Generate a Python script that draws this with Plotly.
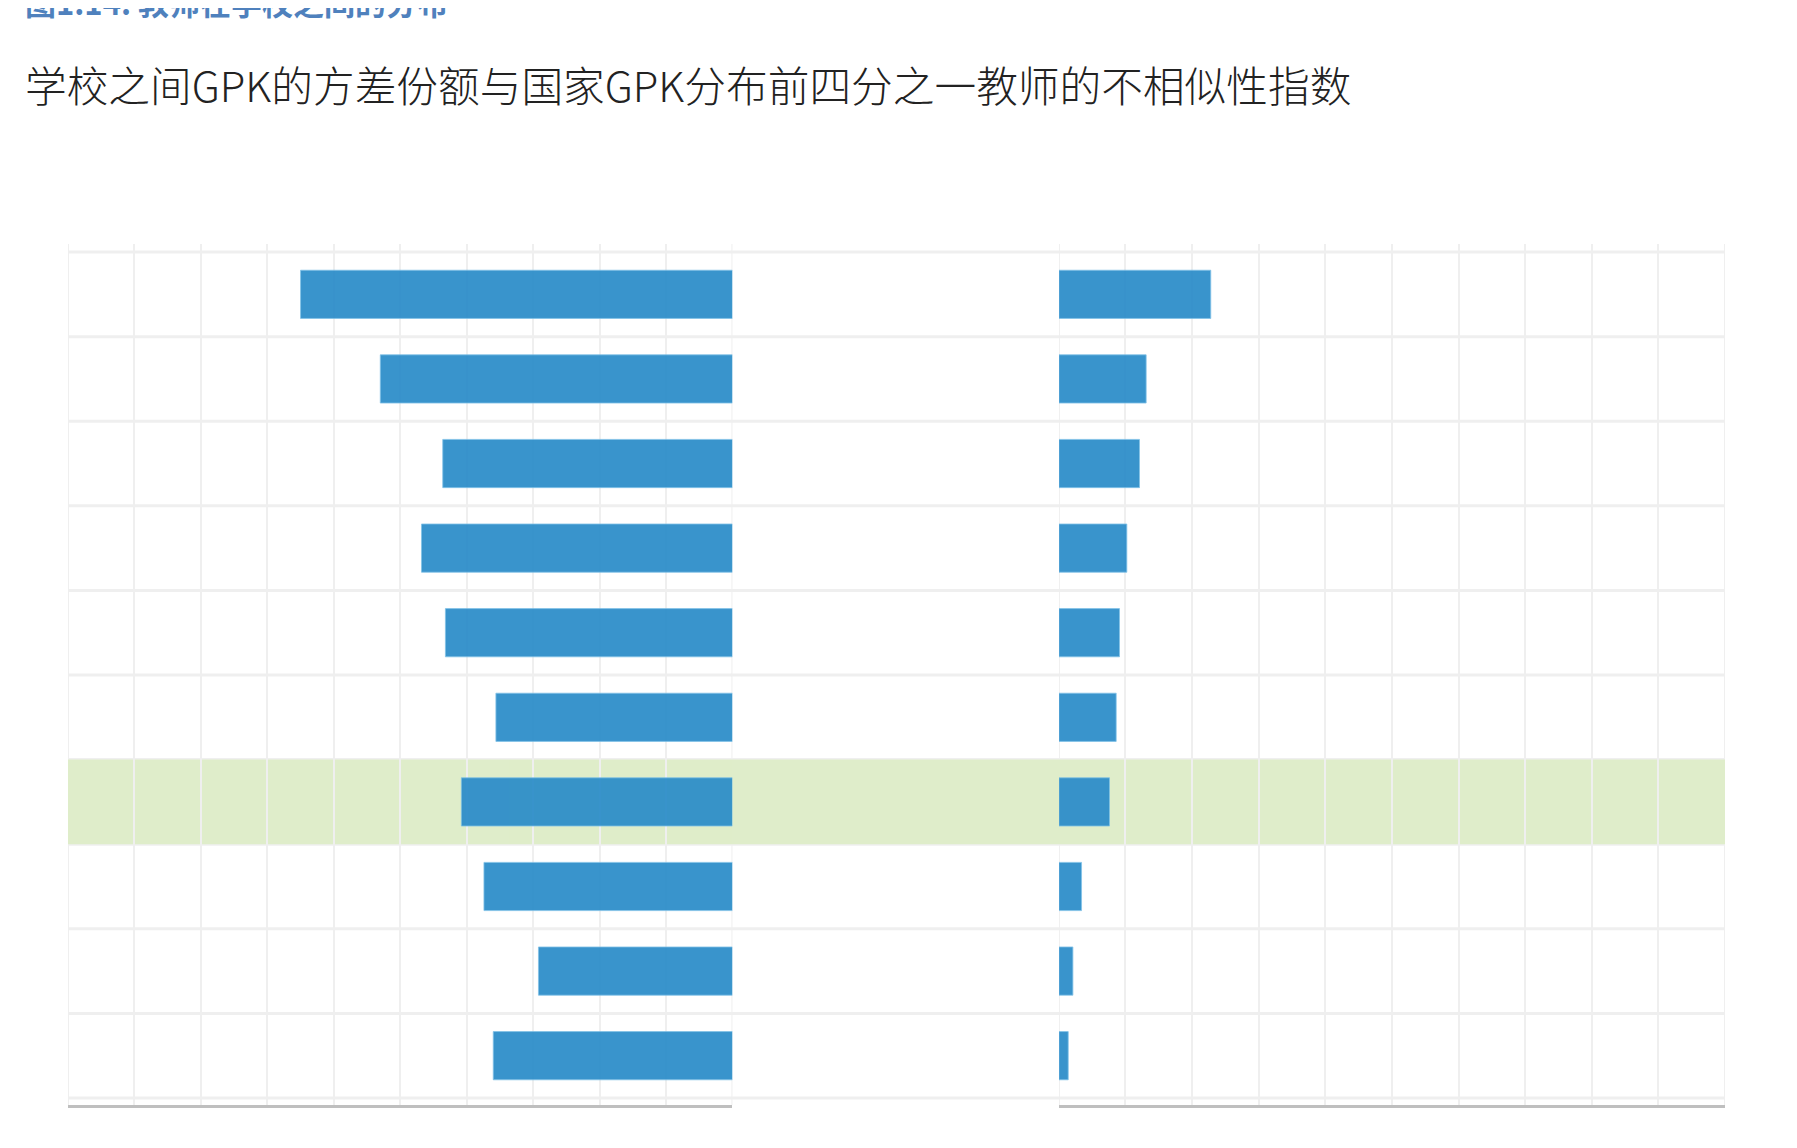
import plotly.graph_objects as go

# rows from top to bottom (labels are not shown in the source picture)
rows = list(range(10))
highlight_row = 6

# left panel: share of GPK variance between schools (%)
variance_share = [32.5, 26.5, 21.8, 23.4, 21.6, 17.8, 20.4, 18.7, 14.6, 18.0]
# right panel: dissimilarity index of top-quartile teachers
dissimilarity = [0.228, 0.131, 0.121, 0.102, 0.091, 0.086, 0.076, 0.034, 0.021, 0.014]

figure_label = "图1.14. 教师在学校之间的分布"
title_text = "学校之间GPK的方差份额与国家GPK分布前四分之一教师的不相似性指数"

bar_color = "rgb(43,140,201)"
grid_color = "#efefef"
font_family = "Noto Sans CJK SC"

fig = go.Figure()

fig.add_trace(go.Bar(
    x=variance_share, y=rows, orientation="h",
    width=0.57,
    marker=dict(color=bar_color, line=dict(color="rgba(120,190,230,0.8)", width=1)),
    opacity=0.93,
    xaxis="x", yaxis="y",
    hoverinfo="x"))

fig.add_trace(go.Bar(
    x=dissimilarity, y=rows, orientation="h",
    width=0.57,
    marker=dict(color=bar_color, line=dict(color="rgba(120,190,230,0.8)", width=1)),
    opacity=0.93,
    xaxis="x2", yaxis="y2",
    hoverinfo="x"))

# horizontal grid lines run across both panels and the gap between them
shapes = []
for i in range(len(rows) + 1):
    shapes.append(dict(type="line", xref="paper", yref="y",
                       x0=0, x1=1, y0=i - 0.5, y1=i - 0.5,
                       line=dict(color=grid_color, width=3), layer="below"))
# vertical grid lines on the outer edges of each panel
for ax, edge in [("x", 50), ("x", 0), ("x2", 0), ("x2", 1)]:
    shapes.append(dict(type="line", xref=ax, yref="paper",
                       x0=edge, x1=edge, y0=0, y1=1,
                       line=dict(color=grid_color, width=2), layer="below"))
# highlighted row
shapes.append(dict(type="rect", xref="paper", yref="y",
                   x0=0, x1=1, y0=highlight_row - 0.5, y1=highlight_row + 0.5,
                   fillcolor="#dfedca", line=dict(width=0), layer="below"))

yrange = [9.583, -0.595]

fig.update_layout(
    width=1797, height=1148,
    margin=dict(l=60, r=80, t=236, b=51),
    paper_bgcolor="white",
    plot_bgcolor="rgba(0,0,0,0)",
    showlegend=False,
    bargap=0.43,
    font=dict(family=font_family),
    xaxis=dict(domain=[0, 0.401], range=[50, 0], dtick=5,
               showgrid=True, gridcolor=grid_color, gridwidth=2,
               zeroline=False, showticklabels=False, ticks="",
               showline=True, linecolor="#bfbfbf", linewidth=3),
    xaxis2=dict(domain=[0.598, 1], range=[0, 1], dtick=0.1,
                showgrid=True, gridcolor=grid_color, gridwidth=2,
                zeroline=False, showticklabels=False, ticks="",
                showline=True, linecolor="#bfbfbf", linewidth=3),
    yaxis=dict(range=yrange, showgrid=False, zeroline=False,
               showticklabels=False, ticks=""),
    yaxis2=dict(range=yrange, anchor="x2", showgrid=False, zeroline=False,
                showticklabels=False, ticks=""),
    shapes=shapes,
    annotations=[
        dict(text="<b>" + figure_label + "</b>", xref="paper", yref="paper",
             x=-0.027, y=1.282, xanchor="left", yanchor="middle",
             showarrow=False, font=dict(size=31, color="#4f81bd", family=font_family)),
        dict(text=title_text, xref="paper", yref="paper",
             x=-0.027, y=1.186, xanchor="left", yanchor="middle",
             showarrow=False, font=dict(size=41.7, color="#222222",
                                        family=font_family, weight=300)),
    ],
)

fig.write_html("out.html")
